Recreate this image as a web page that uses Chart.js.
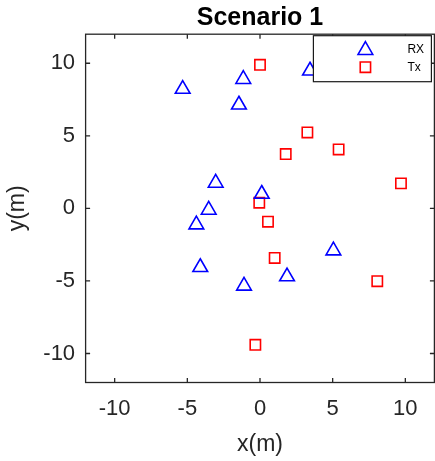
<!DOCTYPE html>
<html>
<head>
<meta charset="utf-8">
<script src="https://cdn.jsdelivr.net/npm/chart.js@4.4.1/dist/chart.umd.min.js"></script>
<style>
html, body { margin: 0; padding: 0; background: #fff; }
</style>
</head>
<body>
<canvas id="scenario" width="435" height="461"></canvas>
<script>
// receiver positions (blue triangles)
var rxX = [-5.32, -1.15, -1.45, 3.44, -3.05, 0.12, -3.53, -4.38, 5.05, -4.11, 1.86, -1.10];
var rxY = [8.22, 8.90, 7.14, 9.48, 1.75, 0.99, -0.11, -1.12, -2.91, -4.06, -4.70, -5.34];
// transmitter positions (red squares)
var txX = [0.00, 3.26, 1.77, 5.41, 9.70, -0.05, 0.55, 1.01, 8.07, -0.32];
var txY = [9.89, 5.23, 3.74, 4.06, 1.72, 0.39, -0.92, -3.42, -5.02, -9.40];
var tickValues = [-10, -5, 0, 5, 10];
var axisMin = -12, axisMax = 12;
var seriesNames = ['RX', 'Tx'];

var FONT = "'Liberation Sans', Arial, Helvetica, sans-serif";
var AXIS_COLOR = '#262626';

function toPoints(xs, ys) {
    return xs.map(function (x, i) { return { x: x, y: ys[i] }; });
}

function drawMarker(ctx, style, x, y, r) {
    ctx.beginPath();
    if (style === 'triangle') {
        var rad = 0;
        ctx.moveTo(x + Math.sin(rad) * r, y - Math.cos(rad) * r);
        rad += 2 * Math.PI / 3;
        ctx.lineTo(x + Math.sin(rad) * r, y - Math.cos(rad) * r);
        rad += 2 * Math.PI / 3;
        ctx.lineTo(x + Math.sin(rad) * r, y - Math.cos(rad) * r);
        ctx.closePath();
    } else {
        var s = Math.SQRT1_2 * r;
        ctx.rect(x - s, y - s, 2 * s, 2 * s);
    }
    ctx.stroke();
}

// box around the axes, inward ticks on all sides, and the legend box
var framePlugin = {
    id: 'frame',
    afterDatasetsDraw: function (chart) {
        var ctx = chart.ctx, a = chart.chartArea;
        var xs = chart.scales.x, ys = chart.scales.y;
        var tl = 4.5;
        ctx.save();
        ctx.strokeStyle = AXIS_COLOR;
        ctx.lineWidth = 1.3;
        ctx.strokeRect(a.left, a.top, a.right - a.left, a.bottom - a.top);
        ctx.beginPath();
        xs.ticks.forEach(function (t) {
            var px = xs.getPixelForValue(t.value);
            ctx.moveTo(px, a.bottom); ctx.lineTo(px, a.bottom - tl);
            ctx.moveTo(px, a.top); ctx.lineTo(px, a.top + tl);
        });
        ys.ticks.forEach(function (t) {
            var py = ys.getPixelForValue(t.value);
            ctx.moveTo(a.left, py); ctx.lineTo(a.left + tl, py);
            ctx.moveTo(a.right, py); ctx.lineTo(a.right - tl, py);
        });
        ctx.stroke();

        // legend
        var lx = a.right - 121, ly = a.top + 1.5, lw = 118, lh = 46;
        ctx.fillStyle = '#fff';
        ctx.fillRect(lx, ly, lw, lh);
        ctx.strokeStyle = '#1a1a1a';
        ctx.lineWidth = 1.2;
        ctx.strokeRect(lx, ly, lw, lh);
        ctx.font = '12px ' + FONT;
        ctx.textBaseline = 'middle';
        ctx.textAlign = 'left';
        chart.data.datasets.forEach(function (ds, i) {
            var rowY = ly + 13 + i * 18.5;
            ctx.strokeStyle = ds.borderColor;
            ctx.lineWidth = ds.pointBorderWidth;
            drawMarker(ctx, ds.pointStyle, lx + 52, rowY + (i === 0 ? 1.5 : 0), ds.pointRadius);
            ctx.fillStyle = '#000';
            ctx.fillText(ds.label, lx + 94, rowY + (i === 0 ? 1 : 0));
        });
        ctx.restore();
    }
};

var ctx = document.getElementById('scenario').getContext('2d');
var chart = new Chart(ctx, {
    type: 'scatter',
    data: {
        datasets: [{
            label: seriesNames[0],
            data: toPoints(rxX, rxY),
            pointStyle: 'triangle',
            pointRadius: 8.5,
            pointBorderWidth: 1.6,
            borderColor: '#0000ff',
            backgroundColor: 'rgba(0,0,0,0)',
            pointBackgroundColor: 'rgba(0,0,0,0)'
        }, {
            label: seriesNames[1],
            data: toPoints(txX, txY),
            pointStyle: 'rect',
            pointRadius: 7.3,
            pointBorderWidth: 1.6,
            borderColor: '#ff0000',
            backgroundColor: 'rgba(0,0,0,0)',
            pointBackgroundColor: 'rgba(0,0,0,0)'
        }]
    },
    options: {
        responsive: false,
        animation: false,
        layout: { autoPadding: false, padding: { left: 0, right: 0.6, top: 0, bottom: 0 } },
        plugins: {
            legend: { display: false },
            tooltip: { enabled: false },
            title: {
                display: true,
                text: 'Scenario 1',
                fullSize: false,
                color: '#000',
                font: { family: FONT, size: 25, weight: 'bold' },
                padding: { top: 3, bottom: 1.2 }
            }
        },
        scales: {
            x: {
                type: 'linear',
                min: axisMin,
                max: axisMax,
                afterBuildTicks: function (s) { s.ticks = tickValues.map(function (v) { return { value: v }; }); },
                afterFit: function (s) { s.height = 78.5; s.paddingLeft = 0; s.paddingRight = 0; },
                grid: { display: false, drawTicks: false },
                border: { display: false },
                ticks: { color: AXIS_COLOR, font: { family: FONT, size: 22 }, padding: 13, maxRotation: 0, autoSkip: false },
                title: { display: true, text: 'x(m)', color: AXIS_COLOR, font: { family: FONT, size: 23 }, padding: { top: 0, bottom: 3 } }
            },
            y: {
                type: 'linear',
                min: axisMin,
                max: axisMax,
                afterBuildTicks: function (s) { s.ticks = tickValues.map(function (v) { return { value: v }; }); },
                afterFit: function (s) { s.width = 85.6; },
                grid: { display: false, drawTicks: false },
                border: { display: false },
                ticks: { color: AXIS_COLOR, font: { family: FONT, size: 22 }, padding: 10.5, autoSkip: false },
                title: { display: true, text: 'y(m)', color: AXIS_COLOR, font: { family: FONT, size: 23 }, padding: { top: 4, bottom: 0 } }
            }
        }
    },
    plugins: [framePlugin]
});
</script>
</body>
</html>
